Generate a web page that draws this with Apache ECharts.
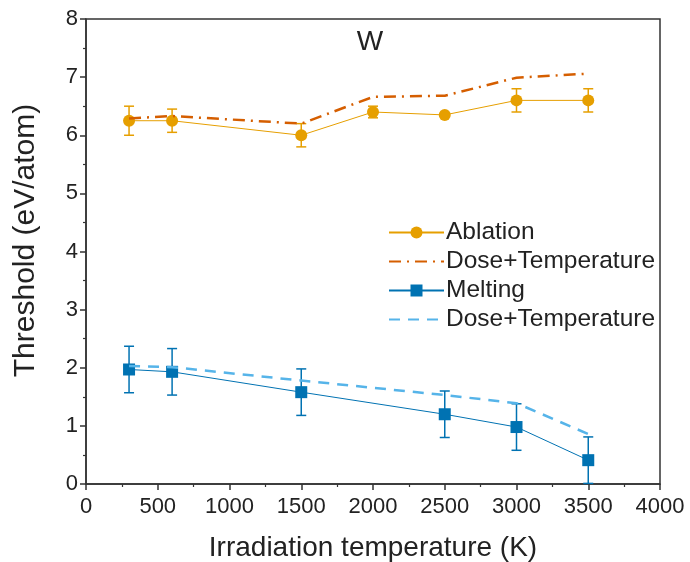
<!DOCTYPE html>
<html>
<head>
<meta charset="utf-8">
<script src="https://cdn.jsdelivr.net/npm/echarts@6/dist/echarts.min.js"></script>
<style>
  html, body { margin: 0; padding: 0; background: #fff; }
  #main { width: 690px; height: 562px; }
</style>
</head>
<body>
<div id="main"></div>
<script>
// values
var temps = [300, 600, 1500, 2000, 2500, 3000, 3500];
var ablation = [6.25, 6.25, 6.0, 6.4, 6.35, 6.6, 6.6];
var ablationErr = [0.25, 0.2, 0.2, 0.1, 0, 0.2, 0.2];
var ablationDT = [6.29, 6.33, 6.2, 6.66, 6.68, 6.99, 7.06];

var meltTemps = [300, 600, 1500, 2500, 3000, 3500];
var melting = [1.97, 1.93, 1.58, 1.20, 0.98, 0.41];
var meltingErr = [0.4, 0.4, 0.4, 0.4, 0.4, 0.4];
var meltingDT = [2.03, 2.01, 1.78, 1.53, 1.39, 0.86];

var xTicks = ['0', '500', '1000', '1500', '2000', '2500', '3000', '3500', '4000'];

var FONT = 'Liberation Sans, Arial, sans-serif';
var C_ABL = '#E69F00', C_ABL_DT = '#D55E00', C_MELT = '#0072B2', C_MELT_DT = '#56B4E9';

function pairs(xs, ys) {
  return xs.map(function (x, i) { return [x, ys[i]]; });
}
function errData(xs, ys, es) {
  return xs.map(function (x, i) { return [x, ys[i] - es[i], ys[i] + es[i]]; });
}
function errBar(color) {
  return function (params, api) {
    var lo = api.coord([api.value(0), api.value(1)]);
    var hi = api.coord([api.value(0), api.value(2)]);
    if (Math.abs(hi[1] - lo[1]) < 1) return null;
    var w = 5;
    var st = { stroke: color, lineWidth: 1.5 };
    return {
      type: 'group',
      children: [
        { type: 'line', shape: { x1: lo[0], y1: lo[1], x2: hi[0], y2: hi[1] }, style: st },
        { type: 'line', shape: { x1: lo[0] - w, y1: lo[1], x2: lo[0] + w, y2: lo[1] }, style: st },
        { type: 'line', shape: { x1: hi[0] - w, y1: hi[1], x2: hi[0] + w, y2: hi[1] }, style: st }
      ]
    };
  };
}

var chart = echarts.init(document.getElementById('main'));
chart.setOption({
  animation: false,
  textStyle: { fontFamily: FONT },
  title: {
    text: 'W',
    left: 365,
    top: 23,
    textAlign: 'center',
    textStyle: { fontSize: 28, fontWeight: 'normal', color: '#222', fontFamily: FONT }
  },
  grid: {
    left: 86, right: 30, top: 19, bottom: 78,
    outerBoundsMode: 'none',
    containLabel: false,
    show: true, borderColor: '#333', borderWidth: 1.5, backgroundColor: 'transparent'
  },
  legend: {
    orient: 'vertical',
    left: 383,
    top: 215,
    itemWidth: 55,
    itemHeight: 15,
    itemGap: 4,
    data: [
      { name: 'Ablation' },
      { name: 'Dose+Temperature (a)', itemStyle: { opacity: 0 } },
      { name: 'Melting' },
      { name: 'Dose+Temperature (m)', itemStyle: { opacity: 0 } }
    ],
    formatter: function (n) { return n.replace(/ \(.\)$/, ''); },
    textStyle: { fontSize: 24.5, color: '#222', fontFamily: FONT, padding: [0, 0, 0, -3] }
  },
  xAxis: {
    type: 'value',
    min: 0, max: 4000, interval: 500,
    name: 'Irradiation temperature (K)',
    nameLocation: 'middle',
    nameGap: 50,
    nameTextStyle: { fontSize: 28, color: '#222', fontFamily: FONT },
    axisLine: { show: true, lineStyle: { color: '#333', width: 1.5 } },
    axisTick: { show: true, inside: false, length: 6, lineStyle: { color: '#333', width: 1.5 } },
    minorTick: { show: true, splitNumber: 2, length: 3, lineStyle: { color: '#333', width: 1.2 } },
    axisLabel: {
      fontSize: 22, color: '#222', margin: 12, fontFamily: FONT,
      formatter: function (v) { return xTicks[Math.round(v / 500)]; }
    },
    splitLine: { show: false }
  },
  yAxis: {
    type: 'value',
    min: 0, max: 8, interval: 1,
    name: 'Threshold (eV/atom)',
    nameLocation: 'middle',
    nameGap: 45,
    nameTextStyle: { fontSize: 30, color: '#222', fontFamily: FONT, padding: [0, 0, 0, 22] },
    axisLine: { show: true, lineStyle: { color: '#333', width: 1.5 } },
    axisTick: { show: true, inside: false, length: 6, lineStyle: { color: '#333', width: 1.5 } },
    minorTick: { show: true, splitNumber: 2, length: 3, lineStyle: { color: '#333', width: 1.2 } },
    axisLabel: { fontSize: 22, color: '#222', margin: 8, fontFamily: FONT },
    splitLine: { show: false }
  },
  series: [
    {
      name: 'Ablation err', type: 'custom', z: 2,
      renderItem: errBar(C_ABL),
      encode: { x: 0, y: [1, 2] },
      data: errData(temps, ablation, ablationErr)
    },
    {
      name: 'Melting err', type: 'custom', z: 2,
      renderItem: errBar(C_MELT),
      encode: { x: 0, y: [1, 2] },
      data: errData(meltTemps, melting, meltingErr)
    },
    {
      name: 'Ablation', type: 'line', z: 3,
      data: pairs(temps, ablation),
      symbol: 'circle', symbolSize: 12,
      itemStyle: { color: C_ABL },
      lineStyle: { color: C_ABL, width: 1 }
    },
    {
      name: 'Dose+Temperature (a)', type: 'line', z: 4,
      data: pairs(temps, ablationDT),
      symbol: 'none',
      itemStyle: { color: C_ABL_DT },
      lineStyle: { color: C_ABL_DT, width: 2.5, type: [12, 6, 2, 6] }
    },
    {
      name: 'Melting', type: 'line', z: 3,
      data: pairs(meltTemps, melting),
      symbol: 'rect', symbolSize: 12,
      itemStyle: { color: C_MELT },
      lineStyle: { color: C_MELT, width: 1 }
    },
    {
      name: 'Dose+Temperature (m)', type: 'line', z: 4,
      data: pairs(meltTemps, meltingDT),
      symbol: 'none',
      itemStyle: { color: C_MELT_DT },
      lineStyle: { color: C_MELT_DT, width: 2.5, type: [11, 8] }
    }
  ]
});
</script>
</body>
</html>
